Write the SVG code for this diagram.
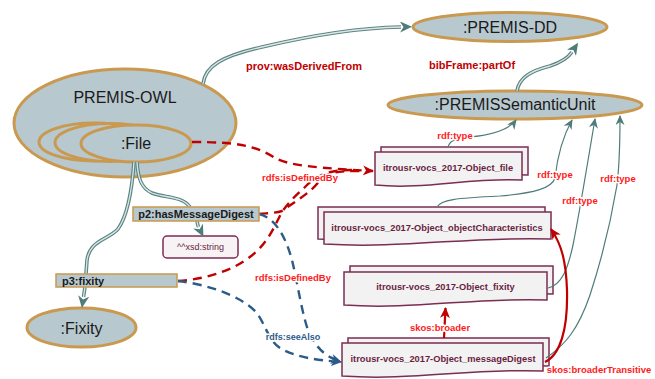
<svg xmlns="http://www.w3.org/2000/svg" width="655" height="379" viewBox="0 0 655 379">
  <defs>
    <style>
      .cls { fill: #B8C8CF; stroke: #C9994F; stroke-width: 3; }
      .prop { fill: #B8C8CF; stroke: #C9994F; stroke-width: 1.5; }
      .doc { fill: #F2F2F2; stroke: #7B2E52; stroke-width: 1.5; }
      .lit { fill: #F7F3F5; stroke: #7B2E52; stroke-width: 1.5; }
      .big { font-family: "Liberation Sans", Arial, sans-serif; font-size: 16px; fill: #1A1A1A; text-anchor: middle; }
      .ptxt { font-family: "Liberation Sans", Arial, sans-serif; font-size: 11px; font-weight: bold; fill: #1A1A1A; }
      .dtxt { font-family: "Liberation Sans", Arial, sans-serif; font-size: 9.3px; font-weight: bold; fill: #6A1F42; text-anchor: middle; }
      .lbl { font-family: "Liberation Sans", Arial, sans-serif; font-weight: bold; text-anchor: middle; stroke: #FFFFFF; stroke-width: 3; paint-order: stroke; stroke-linejoin: round; }
      .dred { fill: #C00000; font-size: 11px; }
      .red { fill: #FF1A1A; font-size: 9.5px; }
      .blu { fill: #2E5C8A; font-size: 9px; }
      .dbl-o { fill: none; stroke: #5B8583; stroke-width: 3.6; }
      .dbl-i { fill: none; stroke: #DCE6E6; stroke-width: 1.3; }
      .thin { fill: none; stroke: #4F7C7A; stroke-width: 1.2; }
      .rdash { fill: none; stroke: #C00000; stroke-width: 2.4; stroke-dasharray: 9 6; }
      .bdash { fill: none; stroke: #2B5C88; stroke-width: 2.4; stroke-dasharray: 9 6; }
      .rsolid { fill: none; stroke: #C00000; stroke-width: 2.2; }
    </style>
    <!-- chevron heads; the double-line head starts where the path ends -->
    <marker id="hDbl" viewBox="0 0 12 11" markerWidth="12" markerHeight="11" refX="1" refY="5.5" orient="auto" markerUnits="userSpaceOnUse">
      <path d="M0,0 L12,5.5 L0,11 L3.5,5.5 Z" fill="#4F7C7A"/>
    </marker>
    <marker id="hTeal" viewBox="0 0 10 9" markerWidth="10" markerHeight="9" refX="9" refY="4.5" orient="auto" markerUnits="userSpaceOnUse">
      <path d="M0,0 L10,4.5 L0,9 L3,4.5 Z" fill="#4F7C7A"/>
    </marker>
    <marker id="hRed" viewBox="0 0 11 10" markerWidth="11" markerHeight="10" refX="10" refY="5" orient="auto" markerUnits="userSpaceOnUse">
      <path d="M0,0 L11,5 L0,10 L3,5 Z" fill="#C00000"/>
    </marker>
    <marker id="hBlue" viewBox="0 0 11 10" markerWidth="11" markerHeight="10" refX="10" refY="5" orient="auto" markerUnits="userSpaceOnUse">
      <path d="M0,0 L11,5 L0,10 L3,5 Z" fill="#2B5C88"/>
    </marker>
  </defs>

  <rect width="655" height="379" fill="#FFFFFF"/>

  <!-- ontology / class nodes -->
  <g id="premis-owl">
    <ellipse class="cls" cx="125" cy="123" rx="111" ry="54"/>
    <text class="big" x="125" y="103">PREMIS-OWL</text>
  </g>
  <g id="file">
    <ellipse class="cls" cx="94" cy="142" rx="55" ry="19"/>
    <ellipse class="cls" cx="110" cy="142.5" rx="55" ry="19"/>
    <ellipse class="cls" cx="136" cy="143.5" rx="55" ry="18.5"/>
    <text class="big" x="136" y="149">:File</text>
  </g>
  <g id="premis-dd">
    <ellipse class="cls" cx="510" cy="27" rx="97" ry="14.5"/>
    <text class="big" x="510" y="33">:PREMIS-DD</text>
  </g>
  <g id="semantic-unit">
    <ellipse class="cls" cx="515" cy="105" rx="127" ry="14"/>
    <text class="big" x="515" y="110">:PREMISSemanticUnit</text>
  </g>
  <g id="fixity">
    <ellipse class="cls" cx="81.5" cy="327.5" rx="54.5" ry="19.5"/>
    <text class="big" x="81.5" y="334">:Fixity</text>
  </g>
  <g id="xsd-string">
    <rect class="lit" x="163" y="236" width="75" height="22" rx="4"/>
    <text x="200.5" y="250" font-family="'Liberation Sans', Arial, sans-serif" font-size="9px" fill="#6A1F42" text-anchor="middle">^^xsd:string</text>
  </g>

  <!-- vocabulary documents -->
  <g id="obj-file">
    <path class="doc" d="M381,147 H528 V175 C476,172 432,185 381,180 Z"/>
    <path class="doc" d="M375,152 H522 V180 C470,177 426,190 375,185 Z"/>
    <text class="dtxt" x="448" y="171">itrousr-vocs_2017-Object_file</text>
  </g>
  <g id="obj-characteristics">
    <path class="doc" d="M318,207 H545 V234 C466,231 397,244 318,239 Z"/>
    <path class="doc" d="M324,212 H551 V239 C472,236 403,249 324,244 Z"/>
    <text class="dtxt" x="437" y="231">itrousr-vocs_2017-Object_objectCharacteristics</text>
  </g>
  <g id="obj-fixity">
    <path class="doc" d="M350,266 H553 V294 C482,291 421,304 350,299 Z"/>
    <path class="doc" d="M344,272 H547 V300 C476,297 415,310 344,305 Z"/>
    <text class="dtxt" x="445.5" y="290">itrousr-vocs_2017-Object_fixity</text>
  </g>
  <g id="obj-digest">
    <path class="doc" d="M348,338 H549 V366 C479,363 418,376 348,371 Z"/>
    <path class="doc" d="M342,343 H543 V371 C473,368 412,381 342,376 Z"/>
    <text class="dtxt" x="443" y="362">itrousr-vocs_2017-Object_messageDigest</text>
  </g>

  <!-- connectors -->
  <g id="connectors">
    <!-- double lines (object properties and derivation) -->
    <path class="dbl-o" d="M203,84 C205,66 222,56 262,47 C300,38 350,28 401,27" marker-end="url(#hDbl)"/>
    <path class="dbl-i" d="M203,84 C205,66 222,56 262,47 C300,38 350,28 401,27"/>
    <path class="dbl-o" d="M517,91 C519,78 530,71 550,66 C562,62 568,58 572,52" marker-end="url(#hDbl)"/>
    <path class="dbl-i" d="M517,91 C519,78 530,71 550,66 C562,62 568,58 572,52"/>
    <path class="dbl-o" d="M137,162 C138,178 141,188 152,193 C165,198 182,196 190,207"/>
    <path class="dbl-i" d="M137,162 C138,178 141,188 152,193 C165,198 182,196 190,207"/>
    <path class="dbl-o" d="M197,221 C197.5,224 198,226 198.5,227" marker-end="url(#hDbl)"/>
    <path class="dbl-i" d="M197,221 C197.5,224 198,226 198.5,227"/>
    <path class="dbl-o" d="M134,162 C132,190 128,215 118,229 C108,240 90,240 87,260 L86,274"/>
    <path class="dbl-i" d="M134,162 C132,190 128,215 118,229 C108,240 90,240 87,260 L86,274"/>
    <path class="dbl-o" d="M85,287 L83.5,297" marker-end="url(#hDbl)"/>
    <path class="dbl-i" d="M85,287 L83.5,297"/>

    <!-- rdfs:isDefinedBy -->
    <path class="rdash" d="M192,142 C235,142 255,145 275,158 C290,166 320,168 373,171" marker-end="url(#hRed)"/>
    <path class="rdash" d="M259,214 C270,213 276,213 282,211 C297,200 312,192 320,180 C327,172 340,171 360,171"/>
    <path class="rdash" d="M178,281 C210,279 240,268 258,250 C270,238 275,225 282,212 C290,200 300,192 306,186 C320,172 335,170 352,170"/>

    <!-- rdfs:seeAlso -->
    <path class="bdash" d="M259,214 C275,218 285,235 292,260 C298,285 303,320 310,335 C318,350 328,358 341,362" marker-end="url(#hBlue)"/>
    <path class="bdash" d="M178,281 C205,284 240,295 256,312 C266,325 268,340 280,348 C295,357 315,360 341,362" marker-end="url(#hBlue)"/>

    <!-- rdf:type -->
    <path class="thin" d="M448,147 C450,140 455,139 470,137 C490,135 508,131 516,120" marker-end="url(#hTeal)"/>
    <path class="thin" d="M437,207 C441,200 455,198 500,196 C535,193 552,188 555,178 C557,160 562,138 572,120" marker-end="url(#hTeal)"/>
    <path class="thin" d="M548,288 C562,285 568,268 573,245 C580,210 588,160 595,119" marker-end="url(#hTeal)"/>
    <path class="thin" d="M546,358 C565,345 578,330 590,295 C603,255 612,215 617,185 C620,160 620,140 620,116" marker-end="url(#hTeal)"/>

    <!-- skos -->
    <path class="rsolid" d="M444,338 L445.5,308" marker-end="url(#hRed)"/>
    <path class="rsolid" d="M545,362 C560,355 568,330 567,290 C566,262 562,245 551,229" marker-end="url(#hRed)"/>
  </g>

  <!-- property boxes sitting on the connectors -->
  <g id="p2-hasMessageDigest">
    <rect class="prop" x="133" y="207" width="126" height="14"/>
    <text class="ptxt" x="196" y="218" text-anchor="middle">p2:hasMessageDigest</text>
  </g>
  <g id="p3-fixity">
    <rect class="prop" x="56" y="274" width="121" height="13"/>
    <text class="ptxt" x="62" y="285">p3:fixity</text>
  </g>

  <!-- edge labels -->
  <g id="edge-labels">
    <text class="lbl dred" x="304" y="70">prov:wasDerivedFrom</text>
    <text class="lbl dred" x="472" y="69">bibFrame:partOf</text>
    <text class="lbl red" x="300" y="181">rdfs:isDefinedBy</text>
    <text class="lbl red" x="293" y="281">rdfs:isDefinedBy</text>
    <text class="lbl blu" x="293" y="340">rdfs:seeAlso</text>
    <text class="lbl red" x="455" y="139">rdf:type</text>
    <text class="lbl red" x="555" y="178">rdf:type</text>
    <text class="lbl red" x="580" y="204">rdf:type</text>
    <text class="lbl red" x="618" y="182">rdf:type</text>
    <text class="lbl red" x="440" y="331">skos:broader</text>
    <text class="lbl red" x="599" y="373">skos:broaderTransitive</text>
  </g>
</svg>
